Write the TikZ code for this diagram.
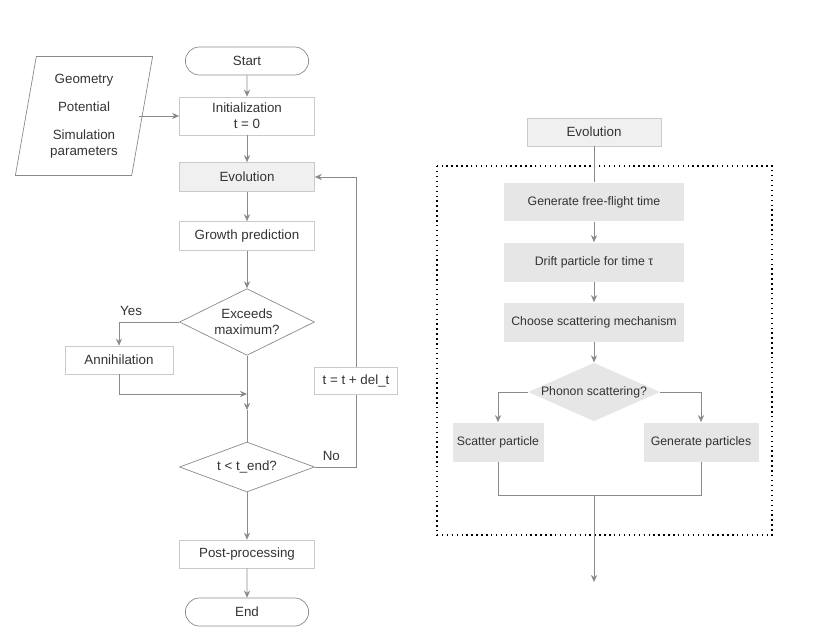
\documentclass[tikz,border=0pt]{standalone}
\usepackage{fontspec}
\setmainfont{Liberation Sans}
\usetikzlibrary{shapes.geometric,shapes.misc,arrows.meta}
\definecolor{linegray}{HTML}{8A8A8A}
\definecolor{boxgray}{HTML}{E6E6E6}
\definecolor{txtgray}{HTML}{333333}
\begin{document}
\begin{tikzpicture}[x=0.02cm,y=-0.02cm,
	font=\fontsize{7.6pt}{9pt}\selectfont,text=txtgray,
	line/.style={draw=linegray,thin},
	arr/.style={line,-{Stealth[length=4pt,width=3.5pt]}},
	box/.style={draw=boxgray!70!linegray,thin,rectangle,inner sep=0pt,align=center},
	proc/.style={rectangle,fill=boxgray,inner sep=0pt,align=center,font=\fontsize{7pt}{8.5pt}\selectfont},
	term/.style={draw=linegray,thin,rounded rectangle,minimum width=2.7cm,minimum height=0.56cm},
	test/.style={draw=linegray,thin,diamond,aspect=1.59,inner sep=0pt,minimum width=2.7cm,align=center}]
	\useasboundingbox (0,0) rectangle (820,642);
	% left flow
	\node[term] (start) at (247,61) {Start};
	\node[box,minimum width=2.7cm,minimum height=0.76cm] (init) at (247,116) {Initialization\\t = 0};
	\node[draw=linegray,thin,trapezium,trapezium left angle=80,trapezium right angle=100,
		minimum width=2.0cm,minimum height=2.38cm,align=center,inner sep=0pt] (input) at (84,116)
		{Geometry\\[7pt]Potential\\[7pt]Simulation\\parameters};
	\node[box,fill=boxgray!60,minimum width=2.7cm,minimum height=0.58cm] (evol) at (247,177) {Evolution};
	\node[box,minimum width=2.7cm,minimum height=0.58cm] (grow) at (247,236) {Growth prediction};
	\node[test] (exceed) at (247,322) {Exceeds\\maximum?};
	\node[box,minimum width=2.16cm,minimum height=0.56cm] (annih) at (119,360) {Annihilation};
	\node[test] (tend) at (247,467) {t {\textless} t\_end?};
	\node[box,minimum width=1.66cm,minimum height=0.54cm] (incr) at (356,381) {t = t + del\_t};
	\node[box,minimum width=2.7cm,minimum height=0.56cm] (post) at (247,554) {Post-processing};
	\node[term] (end) at (247,612) {End};
	\coordinate (merge) at (247,394);
	\coordinate (inp) at (139,116);
	\coordinate (drop) at (247,410);
	\draw[arr] (start) -- (init);
	\draw[arr] (inp) -- (init);
	\draw[arr] (init) -- (evol);
	\draw[arr] (evol) -- (grow);
	\draw[arr] (grow) -- (exceed);
	\draw[arr] (exceed.west) -| node[pos=0.4,above] {Yes} (annih);
	\draw[arr] (annih) |- (merge);
	\draw[arr] (exceed) -- (drop);
	\draw[line] (drop) -- (tend.north);
	\draw[line] (tend.east) -| node[pos=0.2,above] {No} (incr);
	\draw[arr] (incr) |- (evol);
	\draw[arr] (tend) -- (post);
	\draw[arr] (post) -- (end);
	% right detail
	\node[box,fill=boxgray!60,minimum width=2.68cm,minimum height=0.56cm] (evol2) at (594,132) {Evolution};
	\draw[dotted,thick,draw=black] (437,166) rectangle (772,535);
	\node[proc,minimum width=3.6cm,minimum height=0.78cm] (free) at (594,202) {Generate free-flight time};
	\node[proc,minimum width=3.6cm,minimum height=0.78cm] (drift) at (594,262) {Drift particle for time τ};
	\node[proc,minimum width=3.6cm,minimum height=0.78cm] (choose) at (594,322) {Choose scattering mechanism};
	\node[diamond,fill=boxgray,aspect=2.25,inner sep=0pt,minimum width=2.56cm,
		font=\fontsize{7pt}{8.5pt}\selectfont] (phonon) at (594,392) {Phonon scattering?};
	\node[proc,minimum width=1.82cm,minimum height=0.78cm] (scat) at (498,442) {Scatter particle};
	\node[proc,minimum width=2.3cm,minimum height=0.78cm] (gen) at (701,442) {Generate particles};
	\coordinate (join) at (594,495);
	\coordinate (out) at (594,582);
	\draw[line] (evol2) -- (free);
	\draw[arr] (free) -- (drift);
	\draw[arr] (drift) -- (choose);
	\draw[arr] (choose) -- (phonon);
	\draw[arr] (phonon.west) -| (scat);
	\draw[arr] (phonon.east) -| (gen);
	\draw[line] (scat) |- (join);
	\draw[line] (gen) |- (join);
	\draw[arr] (join) -- (out);
\end{tikzpicture}
\end{document}
